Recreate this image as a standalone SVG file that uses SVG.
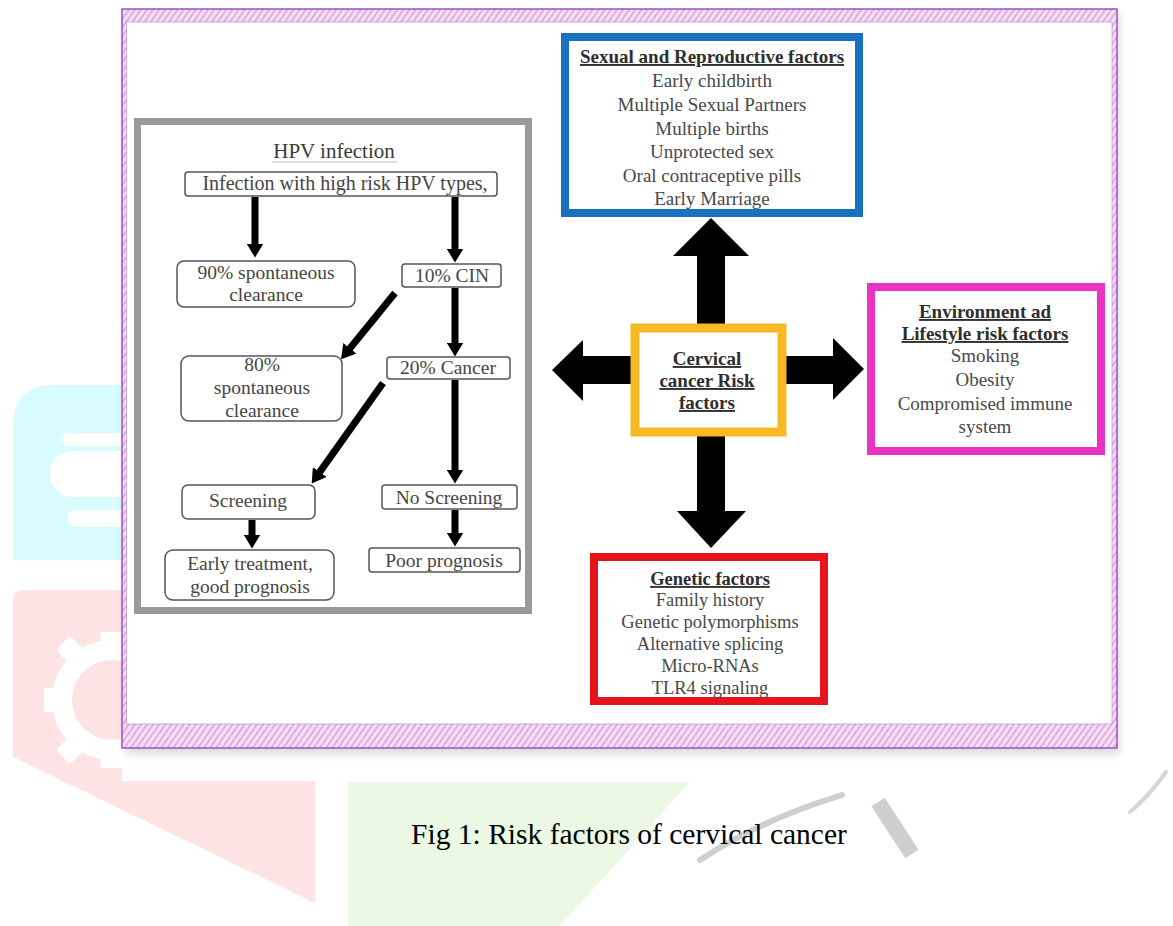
<svg xmlns="http://www.w3.org/2000/svg" width="1173" height="926" viewBox="0 0 1173 926">
<defs>
<pattern id="hatch" patternUnits="userSpaceOnUse" width="5" height="5" patternTransform="rotate(35)">
<rect width="5" height="5" fill="#f7ddf5"/>
<rect x="0" y="0" width="2" height="5" fill="#dcb0e0"/>
</pattern>
<filter id="blur" x="-5%" y="-5%" width="110%" height="110%"><feGaussianBlur stdDeviation="4"/></filter>
<marker id="ah" markerUnits="userSpaceOnUse" markerWidth="14" markerHeight="17" viewBox="0 0 14 17" refX="0.5" refY="8.5" orient="auto">
<path d="M0,0 L14,8.5 L0,17 z" fill="#000"/>
</marker>
<style>
.hbox{fill:#fff;stroke:#555;stroke-width:1.5}
.ht{font-family:"Liberation Serif","Times New Roman",serif;font-size:19.5px;fill:#454545;text-anchor:middle}
.rt{font-family:"Liberation Serif","Times New Roman",serif;font-size:19px;fill:#484848;text-anchor:middle}
.rh{font-weight:bold;fill:#2e2e2e;text-decoration:underline}
.arr{stroke:#000;stroke-width:7;fill:none;marker-end:url(#ah)}
.big{fill:#000}
.wm{stroke:none}
</style>
</defs>
<rect width="1173" height="926" fill="#fff"/>
<g id="watermark">
<path class="wm" d="M13,560 L13,425 Q13,385 55,385 L130,385 L130,560 Z" fill="#d8fbfd"/>
<path class="wm" d="M65,433 L130,433 L130,446 L65,446 Q60,440 65,433 Z" fill="#fff"/>
<rect class="wm" x="50" y="451" width="90" height="46" rx="22" fill="#fff"/>
<rect class="wm" x="68" y="510" width="70" height="17" rx="6" fill="#fff"/>
<path class="wm" d="M13,600 Q13,590 25,590 L315,590 L315,903 L13,757 Z" fill="#fde3e3"/>
<rect class="wm" x="122" y="748" width="193" height="33" fill="#fff"/>
<g fill="none" stroke="#fff" stroke-width="20">
<circle cx="112" cy="700" r="50"/>
</g>
<g fill="#fff">
<rect x="100" y="632" width="24" height="16" rx="3"/>
<rect x="100" y="752" width="24" height="16" rx="3"/>
<rect x="44" y="688" width="16" height="24" rx="3"/>
<rect x="60" y="640" width="20" height="20" rx="3" transform="rotate(45 70 650)"/>
<rect x="60" y="740" width="20" height="20" rx="3" transform="rotate(45 70 750)"/>
</g>
<path class="wm" d="M348,782 L690,782 L560,926 L348,926 Z" fill="#ebf8e3"/>
<path d="M700,860 Q760,820 842,795" fill="none" stroke="#cfcfcf" stroke-width="6" stroke-linecap="round"/>
<rect x="887" y="797" width="16" height="62" fill="#cfcfcf" transform="rotate(-33 895 828)"/>
<path d="M1130,812 Q1150,795 1166,772" fill="none" stroke="#d6d6d6" stroke-width="4" stroke-linecap="round"/>
</g>
<g id="frame">
<rect x="125" y="14" width="995" height="740" fill="#b8b8b8" opacity="0.5" filter="url(#blur)"/>
<rect x="122" y="9" width="995" height="739" fill="url(#hatch)" stroke="#9c52c2" stroke-width="1.5"/>
<rect x="126.5" y="22" width="985.5" height="702" fill="#fff" stroke="#c49ad6" stroke-width="0.8"/>
</g>
<g id="hpv-panel">
<rect x="137.5" y="121.5" width="391" height="489" fill="#fff" stroke="#9a9a9a" stroke-width="7"/>
<text class="ht" x="334" y="158" style="font-size:21px;fill:#3a3a3a">HPV infection</text>
<line x1="272" y1="162" x2="397" y2="162" stroke="#bbb" stroke-width="1"/>
</g>
<g id="connectors">
<line class="arr" x1="255" y1="197" x2="255" y2="244"/>
<line class="arr" x1="455" y1="197" x2="455" y2="249"/>
<line class="arr" x1="455" y1="288" x2="455" y2="343"/>
<line class="arr" x1="455" y1="380" x2="455" y2="470"/>
<line class="arr" x1="252" y1="520" x2="252" y2="535"/>
<line class="arr" x1="455" y1="510" x2="455" y2="533"/>
<line class="arr" x1="395" y1="293" x2="349.6" y2="348.7"/>
<line class="arr" x1="383" y1="383" x2="319.5" y2="472.4"/>
<polygon class="big" points="697,330 697,256 673,256 711,218 749,256 725,256 725,330"/>
<polygon class="big" points="697,430 697,511 677,511 711,548 746,511 725,511 725,430"/>
<polygon class="big" points="636,356 583,356 583,340 552,370 583,401 583,384 636,384"/>
<polygon class="big" points="780,356 833,356 833,338 864,369 833,400 833,384 780,384"/>
</g>
<g id="n-infection">
<rect class="hbox" x="185" y="172" width="312" height="24" rx="3"/>
<text class="ht" x="345" y="190" style="font-size:20px">Infection with high risk HPV types,</text>
</g>
<g id="n-90">
<rect class="hbox" x="177" y="261" width="178" height="46" rx="7"/>
<text class="ht" x="266" y="279">90% spontaneous</text>
<text class="ht" x="266" y="301">clearance</text>
</g>
<g id="n-cin">
<rect class="hbox" x="402" y="264" width="99" height="23" rx="3"/>
<text class="ht" x="452" y="282">10% CIN</text>
</g>
<g id="n-80">
<rect class="hbox" x="181" y="356" width="161" height="65" rx="8"/>
<text class="ht" x="262" y="371">80%</text>
<text class="ht" x="262" y="394">spontaneous</text>
<text class="ht" x="262" y="417">clearance</text>
</g>
<g id="n-cancer">
<rect class="hbox" x="387" y="357" width="123" height="22" rx="3"/>
<text class="ht" x="448" y="374">20% Cancer</text>
</g>
<g id="n-screening">
<rect class="hbox" x="182" y="485" width="133" height="34" rx="6"/>
<text class="ht" x="248" y="507">Screening</text>
</g>
<g id="n-early">
<rect class="hbox" x="165" y="550" width="169" height="50" rx="8"/>
<text class="ht" x="250" y="570">Early treatment,</text>
<text class="ht" x="250" y="593">good prognosis</text>
</g>
<g id="n-noscreen">
<rect class="hbox" x="382" y="485" width="135" height="24" rx="3"/>
<text class="ht" x="449" y="504">No Screening</text>
</g>
<g id="n-poor">
<rect class="hbox" x="369" y="548" width="151" height="24" rx="3"/>
<text class="ht" x="444" y="567">Poor prognosis</text>
</g>
<g id="n-sexual">
<rect x="565" y="37" width="294" height="176" fill="#fff" stroke="#1870c0" stroke-width="8"/>
<text class="rt rh" x="712" y="63">Sexual and Reproductive factors</text>
<text class="rt" x="712" y="87">Early childbirth</text>
<text class="rt" x="712" y="111">Multiple Sexual Partners</text>
<text class="rt" x="712" y="135">Multiple births</text>
<text class="rt" x="712" y="158">Unprotected sex</text>
<text class="rt" x="712" y="182">Oral contraceptive pills</text>
<text class="rt" x="712" y="205">Early Marriage</text>
</g>
<g id="n-central">
<rect x="635" y="328" width="147" height="104" fill="#fff" stroke="#f6b923" stroke-width="9"/>
<text class="rt rh" x="707" y="365">Cervical</text>
<text class="rt rh" x="707" y="387">cancer Risk</text>
<text class="rt rh" x="707" y="409">factors</text>
</g>
<g id="n-environment">
<rect x="871" y="287" width="230" height="164" fill="#fff" stroke="#ec32c2" stroke-width="8"/>
<text class="rt rh" x="985" y="318">Environment ad</text>
<text class="rt rh" x="985" y="340">Lifestyle risk factors</text>
<text class="rt" x="985" y="362">Smoking</text>
<text class="rt" x="985" y="386">Obesity</text>
<text class="rt" x="985" y="410">Compromised immune</text>
<text class="rt" x="985" y="433">system</text>
</g>
<g id="n-genetic">
<rect x="594" y="557" width="230" height="144" fill="#fff" stroke="#e8141c" stroke-width="8"/>
<text class="rt rh" x="710" y="585" style="font-size:18.5px">Genetic factors</text>
<text class="rt" x="710" y="606" style="font-size:18.5px">Family history</text>
<text class="rt" x="710" y="628" style="font-size:18.5px">Genetic polymorphisms</text>
<text class="rt" x="710" y="650" style="font-size:18.5px">Alternative splicing</text>
<text class="rt" x="710" y="672" style="font-size:18.5px">Micro-RNAs</text>
<text class="rt" x="710" y="694" style="font-size:18.5px">TLR4 signaling</text>
</g>
<g id="caption">
<text x="629" y="844" style="font-family:'Liberation Serif','Times New Roman',serif;font-size:29.5px;fill:#000;text-anchor:middle">Fig 1: Risk factors of cervical cancer</text>
</g>
</svg>
